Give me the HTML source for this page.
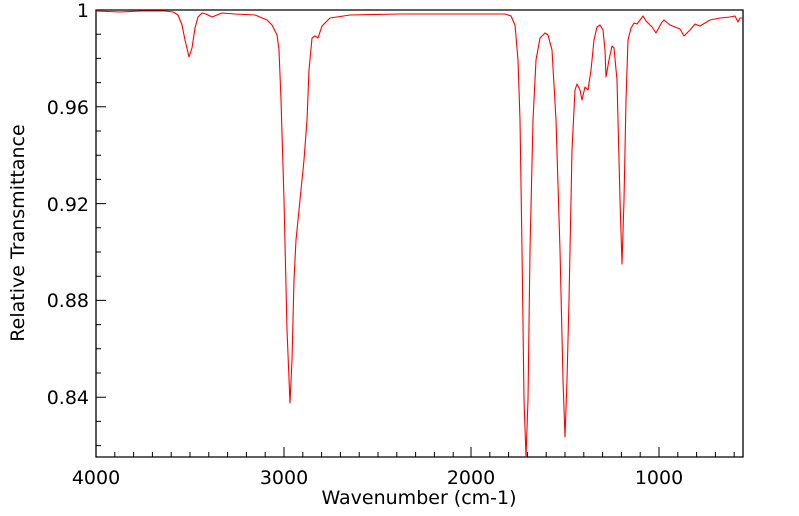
<!DOCTYPE html>
<html><head><style>body{margin:0;background:#fff}svg{display:block}</style></head>
<body>
<svg width="799" height="516" xmlns="http://www.w3.org/2000/svg" font-family="DejaVu Sans, Liberation Sans, sans-serif">
<rect x="0" y="0" width="799" height="516" fill="#fff"/>
<g stroke="#000" stroke-width="1">
<path d="M96,10H743V457H96Z" fill="none" stroke-width="1.3"/>
<path d="M96,457v-10M284,457v-10M471,457v-10M659,457v-10"/>
<path d="M114.8,457v-5M133.6,457v-5M152.4,457v-5M171.2,457v-5M190,457v-5M208.8,457v-5M227.6,457v-5M246.4,457v-5M265.2,457v-5M302.8,457v-5M321.6,457v-5M340.4,457v-5M359.2,457v-5M378,457v-5M396.8,457v-5M415.6,457v-5M434.4,457v-5M453.2,457v-5M489.8,457v-5M508.6,457v-5M527.4,457v-5M546.2,457v-5M565,457v-5M583.8,457v-5M602.6,457v-5M621.4,457v-5M640.2,457v-5M677.8,457v-5M696.6,457v-5M715.4,457v-5M734.2,457v-5"/>
<path d="M96,106.8h10M96,203.6h10M96,300.4h10M96,397.2h10"/>
<path d="M96,34.2h5M96,58.4h5M96,82.6h5M96,131h5M96,155.2h5M96,179.4h5M96,227.8h5M96,252h5M96,276.2h5M96,324.6h5M96,348.8h5M96,373h5M96,421.4h5M96,445.6h5"/>
</g>
<g font-size="19" fill="#000">
<text x="89" y="17" text-anchor="end">1</text>
<text x="89" y="114" text-anchor="end">0.96</text>
<text x="89" y="211" text-anchor="end">0.92</text>
<text x="89" y="307" text-anchor="end">0.88</text>
<text x="89" y="404" text-anchor="end">0.84</text>
<text x="96" y="484" text-anchor="middle">4000</text>
<text x="284" y="484" text-anchor="middle">3000</text>
<text x="471" y="484" text-anchor="middle">2000</text>
<text x="659" y="484" text-anchor="middle">1000</text>
<text x="419" y="504" text-anchor="middle">Wavenumber (cm-1)</text>
<text transform="translate(24,233) rotate(-90)" text-anchor="middle">Relative Transmittance</text>
</g>
<path fill="none" stroke="#f00" stroke-width="1.1" stroke-linejoin="round" d="M96,11 L120,12 L140,11 L165,11 L173,12 L178,15 L182,25 L185,40 L189,57 L192,48 L195,28 L198,17 L202,13 L206,14 L212,17 L217,15 L222,13 L235,14 L255,15 L267,20 L272,25 L277,35 L279,50 L281,100 L284,200 L287,330 L290,403 L292,360 L294,280 L296,240 L300,200 L304,160 L307,120 L309,70 L312,38 L315,36 L318,38 L322,26 L330,18 L350,15 L400,14 L470,14 L505,14 L511,16 L515,25 L518,60 L520,120 L522,250 L524,400 L526,457 L528,400 L530,250 L533,120 L536,60 L540,38 L545,33 L548,35 L552,50 L556,120 L560,250 L563,380 L565,437 L567,380 L569,300 L572,150 L575,90 L577,84 L580,90 L582,100 L585,87 L588,90 L591,70 L594,40 L597,27 L600,25 L603,30 L605,50 L606,77 L609,60 L612,46 L614,48 L617,80 L619,160 L620,200 L622,264 L624,200 L626,100 L628,40 L631,28 L634,23 L637,24 L640,20 L643,16 L646,21 L652,27 L656,33 L662,22 L664,20 L670,25 L680,29 L684,36 L690,30 L695,24 L700,26 L710,20 L720,18 L730,17 L735,16 L738,22 L740,18 L743,18"/>
</svg>
</body></html>
